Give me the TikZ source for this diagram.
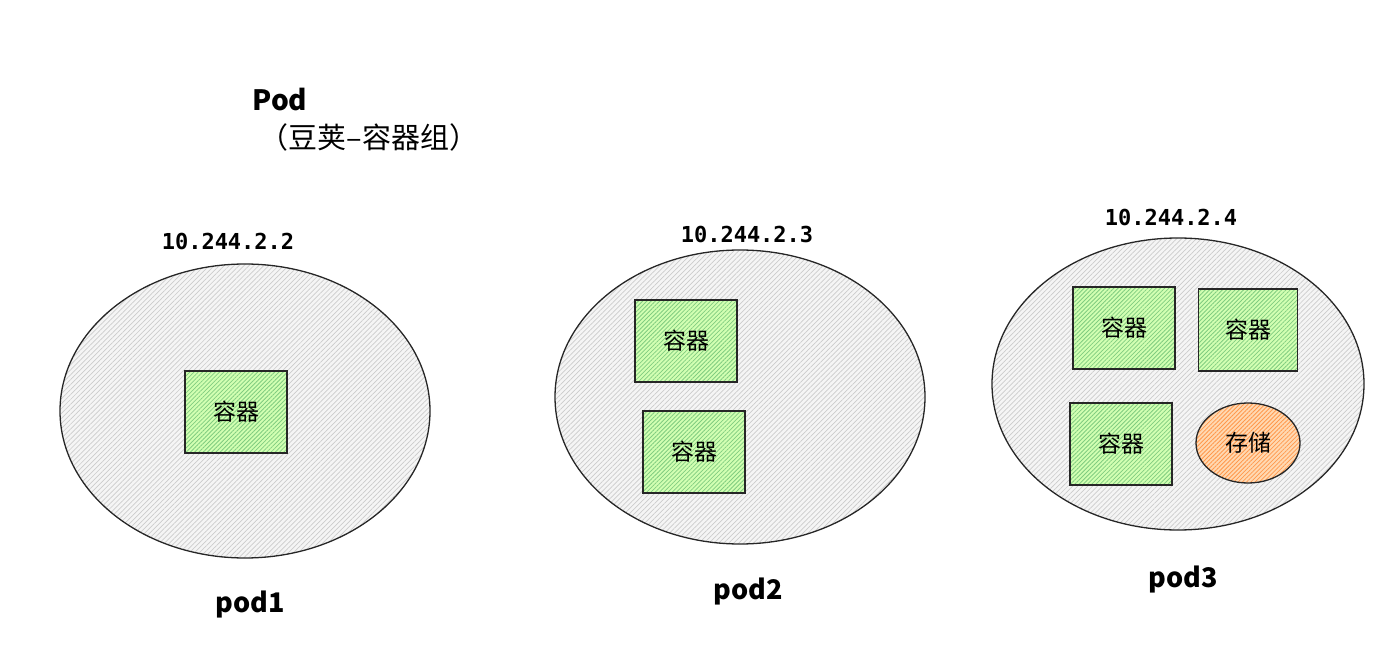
\documentclass[tikz,border=0pt]{standalone}
\usepackage{fontspec}
\setmainfont{Noto Sans CJK SC}
\setmonofont{DejaVu Sans Mono}
\usetikzlibrary{shapes.geometric,patterns.meta}
\begin{document}
\begin{tikzpicture}[x=1pt,y=-1pt,
    pod/.style={ellipse,draw=black!85,line width=1.3pt,inner sep=0pt,
      minimum width=370pt,minimum height=294pt,
      preaction={fill=gray!8},
      pattern={Lines[angle=45,distance=3.5pt,line width=0.7pt]},pattern color=gray!40},
    box/.style={rectangle,draw=black!85,line width=1.3pt,
      minimum width=102pt,minimum height=82pt,
      preaction={fill=green!45!lime!30!white},
      pattern={Lines[angle=45,distance=3pt,line width=0.8pt]},pattern color=green!60!black!50,
      font=\fontsize{23}{26}\selectfont},
    store/.style={ellipse,draw=black!85,line width=1.3pt,inner sep=0pt,
      minimum width=104pt,minimum height=80pt,
      preaction={fill=orange!30},
      pattern={Lines[angle=45,distance=3pt,line width=0.8pt]},pattern color=orange!85!red!70,
      font=\fontsize{23}{26}\selectfont},
    ip/.style={font=\ttfamily\bfseries\fontsize{22}{26}\selectfont},
    podname/.style={font=\bfseries\fontsize{27}{30}\selectfont}]
  \useasboundingbox (0,0) rectangle (1387,668);
  % title
  \node[podname,anchor=west,font=\bfseries\fontsize{28}{30}\selectfont] (title) at (249,100) {Pod};
  \node[anchor=west,font=\fontsize{29}{32}\selectfont] (subtitle) at (256,137) {（豆荚–容器组）};
  % pods
  \node[pod] (pod1) at (245,411) {};
  \node[pod] (pod2) at (740,397) {};
  \node[pod,minimum width=372pt,minimum height=292pt] (pod3) at (1178,384) {};
  % addresses and names
  \node[ip] (ip1) at (228,241) {10.244.2.2};
  \node[ip] (ip2) at (747,234) {10.244.2.3};
  \node[ip] (ip3) at (1171,217) {10.244.2.4};
  \node[podname] (n1) at (250,605) {pod1};
  \node[podname] (n2) at (748,592) {pod2};
  \node[podname] (n3) at (1183,580) {pod3};
  % containers
  \node[box] (c1) at (236,412) {容器};
  \node[box] (c2) at (686,341) {容器};
  \node[box] (c3) at (694,452) {容器};
  \node[box] (c4) at (1124,328) {容器};
  \node[box,minimum width=99pt] (c5) at (1248,330) {容器};
  \node[box] (c6) at (1121,444) {容器};
  \node[store] (s1) at (1248,443) {存储};
\end{tikzpicture}
\end{document}
